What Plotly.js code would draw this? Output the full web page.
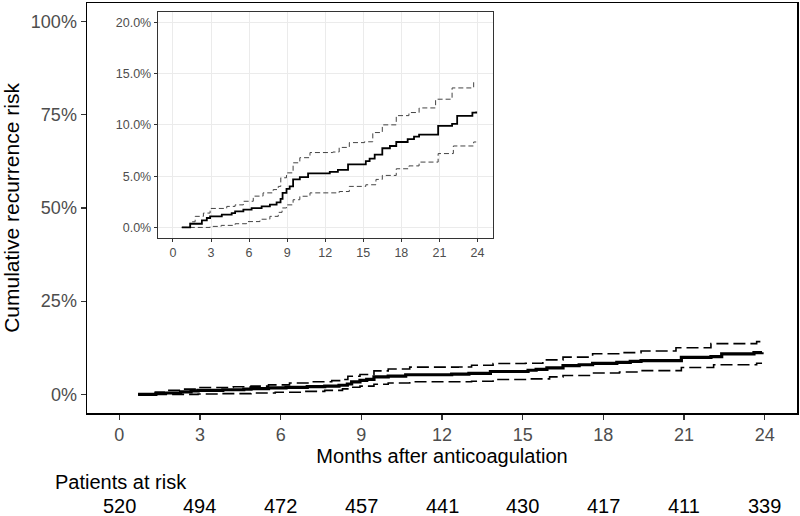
<!DOCTYPE html>
<html>
<head>
<meta charset="utf-8">
<script src="https://cdn.plot.ly/plotly-3.0.1.min.js"></script>
<style>html,body{margin:0;padding:0;background:#fff;}#chart{width:800px;height:516px;}</style>
</head>
<body>
<div id="chart"></div>
<script>
// Cumulative incidence estimate (months, %)
const estTime = [0.7, 1.36, 2.28, 2.67, 2.93, 3.85, 4.63, 4.9, 5.55, 6.2, 6.99, 7.64, 8.17, 8.48, 8.64, 8.95, 9.2, 9.47, 10.0, 10.65, 12.36, 13.0, 13.8, 15.2, 15.5, 15.9, 16.5, 17.1, 17.6, 18.5, 19.0, 19.4, 20.9, 22.0, 22.4, 23.6, 23.9];
const estRisk = [0, 0.36, 0.69, 0.92, 1.08, 1.24, 1.4, 1.56, 1.73, 1.89, 2.06, 2.22, 2.45, 2.78, 3.36, 3.76, 4.0, 4.68, 4.9, 5.26, 5.42, 5.62, 6.14, 6.47, 6.7, 7.1, 7.72, 7.94, 8.33, 8.6, 8.85, 9.05, 9.9, 10.1, 10.88, 11.2, 11.3];
// Upper confidence bound
const upTime = [0.7, 1.36, 1.75, 2.4, 2.93, 4.24, 4.9, 5.55, 6.33, 7.1, 7.9, 8.3, 8.5, 8.95, 9.47, 10.0, 10.8, 12.6, 13.1, 13.9, 15.1, 15.75, 16.5, 17.6, 18.6, 19.4, 20.7, 22.0, 23.7, 23.9];
const upRisk = [0, 0.55, 1.08, 1.4, 1.85, 2.05, 2.2, 2.55, 3.05, 3.37, 3.69, 4.0, 4.84, 5.32, 6.3, 6.8, 7.3, 7.35, 7.8, 8.27, 8.35, 9.25, 10.0, 10.9, 11.2, 11.65, 12.5, 13.6, 14.15, 14.15];
// Lower confidence bound
const loTime = [0.7, 2.93, 3.8, 4.9, 5.8, 6.86, 7.64, 8.3, 8.6, 8.95, 9.47, 10.0, 10.8, 13.1, 13.9, 15.2, 16.0, 16.5, 17.6, 18.6, 19.4, 20.9, 22.1, 23.7, 23.9];
const loRisk = [0, 0.1, 0.2, 0.36, 0.57, 0.8, 1.08, 1.47, 1.9, 2.2, 2.7, 3.04, 3.37, 3.5, 4.0, 4.16, 4.68, 5.07, 5.72, 6.0, 6.37, 7.2, 7.94, 8.33, 8.33];
// Number at risk table
const riskTimes = [0, 3, 6, 9, 12, 15, 18, 21, 24];
const riskCounts = [520, 494, 472, 457, 441, 430, 417, 411, 339];
const xTicks = [0, 3, 6, 9, 12, 15, 18, 21, 24];
const yTicksMain = [0, 25, 50, 75, 100];
const yLabelsMain = ['0%', '25%', '50%', '75%', '100%'];
const yTicksInset = [0, 5, 10, 15, 20];
const yLabelsInset = ['0.0%', '5.0%', '10.0%', '15.0%', '20.0%'];

const FONT = 'Liberation Sans, Arial, sans-serif';
const traces = [
  {x: upTime, y: upRisk, mode: 'lines', line: {shape: 'hv', color: '#000', width: 1.6, dash: '12px,5px'}, xaxis: 'x', yaxis: 'y', hoverinfo: 'skip'},
  {x: loTime, y: loRisk, mode: 'lines', line: {shape: 'hv', color: '#000', width: 1.6, dash: '12px,5px'}, xaxis: 'x', yaxis: 'y', hoverinfo: 'skip'},
  {x: estTime, y: estRisk, mode: 'lines', line: {shape: 'hv', color: '#000', width: 3.2}, xaxis: 'x', yaxis: 'y'},
  {x: upTime, y: upRisk, mode: 'lines', line: {shape: 'hv', color: '#444', width: 1, dash: '5px,3px'}, xaxis: 'x2', yaxis: 'y2', hoverinfo: 'skip'},
  {x: loTime, y: loRisk, mode: 'lines', line: {shape: 'hv', color: '#444', width: 1, dash: '5px,3px'}, xaxis: 'x2', yaxis: 'y2', hoverinfo: 'skip'},
  {x: estTime, y: estRisk, mode: 'lines', line: {shape: 'hv', color: '#000', width: 1.8}, xaxis: 'x2', yaxis: 'y2'}
];

const annotations = [{
  text: 'Patients at risk', xref: 'paper', yref: 'paper', x: -0.0483, y: -0.168,
  xanchor: 'left', yanchor: 'middle', showarrow: false, font: {family: FONT, size: 20, color: '#000'}
}];
riskTimes.forEach((t, i) => {
  annotations.push({text: String(riskCounts[i]), xref: 'x', yref: 'paper', x: t, y: -0.2268,
    xanchor: 'center', yanchor: 'middle', showarrow: false, font: {family: FONT, size: 20, color: '#000'}});
});

const layout = {
  width: 800, height: 516,
  margin: {l: 87, r: 3, t: 3, b: 103},
  paper_bgcolor: '#fff', plot_bgcolor: '#fff',
  showlegend: false,
  font: {family: FONT},
  xaxis: {
    domain: [0, 1], range: [-1.2, 25.2], tickvals: xTicks, ticks: 'outside', ticklen: 5, tickwidth: 1.2, tickcolor: '#333',
    showline: true, mirror: true, linecolor: '#000', linewidth: 1.5, showgrid: false, zeroline: false,
    tickfont: {family: FONT, size: 18, color: '#4d4d4d'},
    title: {text: 'Months after anticoagulation', font: {family: FONT, size: 20, color: '#000'}, standoff: 4}
  },
  yaxis: {
    domain: [0, 1], range: [-5, 105], tickvals: yTicksMain, ticktext: yLabelsMain, ticks: 'outside', ticklen: 5, tickwidth: 1.2, tickcolor: '#333',
    showline: true, mirror: true, linecolor: '#000', linewidth: 1.5, showgrid: false, zeroline: false,
    tickfont: {family: FONT, size: 18, color: '#4d4d4d'},
    title: {text: 'Cumulative recurrence risk', font: {family: FONT, size: 21, color: '#000'}, standoff: 6}
  },
  xaxis2: {
    domain: [0.0996, 0.5714], anchor: 'y2', range: [-1.2, 25.2], tickvals: xTicks, ticks: 'outside', ticklen: 3, tickcolor: '#333',
    showline: true, mirror: true, linecolor: '#333', linewidth: 1, showgrid: true, gridcolor: '#ebebeb', gridwidth: 1, zeroline: false,
    tickfont: {family: FONT, size: 12.5, color: '#4d4d4d'}
  },
  yaxis2: {
    domain: [0.4276, 0.978], anchor: 'x2', range: [-1, 21], tickvals: yTicksInset, ticktext: yLabelsInset, ticks: 'outside', ticklen: 3, tickcolor: '#333',
    showline: true, mirror: true, linecolor: '#333', linewidth: 1, showgrid: true, gridcolor: '#ebebeb', gridwidth: 1, zeroline: false,
    tickfont: {family: FONT, size: 12.5, color: '#4d4d4d'}
  },
  annotations: annotations
};

Plotly.newPlot('chart', traces, layout, {displayModeBar: false, staticPlot: true});
</script>
</body>
</html>
